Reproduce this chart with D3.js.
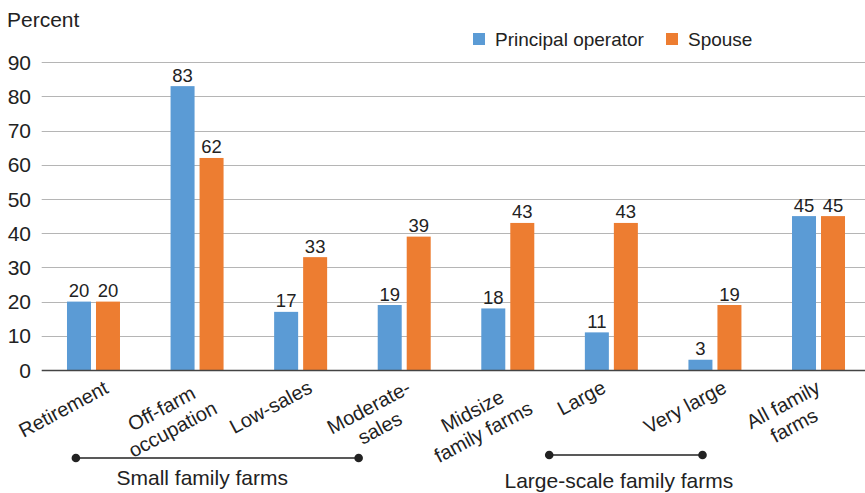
<!DOCTYPE html>
<meta charset="utf-8">
<script src="https://cdn.jsdelivr.net/npm/d3@7"></script>
<style>
body { margin: 0; background: #fff; }
text { font-family: "Liberation Sans", Arial, sans-serif; fill: #222; }
.grid line { stroke: #b5b5b5; stroke-width: 1px; }
</style>
<body>
<div id="chart"></div>
<script>
var categories = ["Retirement", "Off-farm\noccupation", "Low-sales", "Moderate-\nsales",
                  "Midsize\nfamily farms", "Large", "Very large", "All family\nfarms"]
var operatorValues = [20, 83, 17, 19, 18, 11, 3, 45]
var spouseValues = [20, 62, 33, 39, 43, 43, 19, 45]
var seriesNames = ["Principal operator", "Spouse"]
var seriesColors = ["#5b9bd5", "#ed7d31"]
var yTicks = [0, 10, 20, 30, 40, 50, 60, 70, 80, 90]

width = 865
height = 493
axisY = 370
topY = 62.2

svg = d3.select("#chart")
        .append("svg")
        .attr("width", width)
        .attr("height", height)

xScale = d3.scaleBand()
        .domain(categories)
        .range([41.7, 870.3])
        .padding(0)

yScale = d3.scaleLinear()
        .domain([0, 90])
        .range([axisY, topY])

barWidth = 24
barGap = 5

// gridlines
grid = svg.append("g").attr("class", "grid")
grid.selectAll("line")
    .data(yTicks.filter(function(d){return d > 0}))
    .enter()
    .append("line")
    .attr("x1", 41.7)
    .attr("x2", width)
    .attr("y1", function(d){return Math.round(yScale(d)) + 0.5})
    .attr("y2", function(d){return Math.round(yScale(d)) + 0.5})

// y tick labels
svg.append("g")
    .selectAll("text")
    .data(yTicks)
    .enter()
    .append("text")
    .attr("x", 31)
    .attr("y", function(d){return yScale(d)})
    .attr("dy", "0.36em")
    .attr("text-anchor", "end")
    .style("font-size", "21px")
    .text(function(d){return d})

svg.append("text")
    .attr("x", 7)
    .attr("y", 27)
    .style("font-size", "21px")
    .text("Percent")

// bars
var rows = categories.map(function(c, i){
  return {cat: c, values: [operatorValues[i], spouseValues[i]]}
})

groups = svg.append("g")
    .selectAll("g")
    .data(rows)
    .enter()
    .append("g")
    .attr("transform", function(d){return "translate(" + (xScale(d.cat) + xScale.bandwidth()/2) + ",0)"})

groups.selectAll("rect")
    .data(function(d){return d.values})
    .enter()
    .append("rect")
    .attr("x", function(d, i){return i == 0 ? -barWidth - barGap/2 : barGap/2})
    .attr("y", function(d){return yScale(d)})
    .attr("width", barWidth)
    .attr("height", function(d){return axisY - yScale(d)})
    .attr("fill", function(d, i){return seriesColors[i]})

groups.selectAll("text")
    .data(function(d){return d.values})
    .enter()
    .append("text")
    .attr("x", function(d, i){return i == 0 ? -barWidth/2 - barGap/2 : barWidth/2 + barGap/2})
    .attr("y", function(d){return yScale(d) - 4.5})
    .attr("text-anchor", "middle")
    .style("font-size", "18.5px")
    .text(function(d){return d})

// x axis line
svg.append("line")
    .attr("x1", 41.7)
    .attr("x2", width)
    .attr("y1", axisY + 0.5)
    .attr("y2", axisY + 0.5)
    .attr("stroke", "#444")
    .attr("stroke-width", 1.5)

// rotated category labels
var angle = -28
var rad = angle * Math.PI / 180
labels = svg.append("g")
    .selectAll("text")
    .data(categories)
    .enter()
    .append("text")
    .attr("text-anchor", "middle")
    .style("font-size", "20px")

labels.each(function(c){
  var t = d3.select(this)
  var lines = c.split("\n")
  lines.forEach(function(l, i){
    t.append("tspan")
      .attr("x", 0)
      .attr("y", (i - (lines.length - 1)/2) * 23.5)
      .attr("dy", "0.35em")
      .text(l)
  })
  var b = this.getBBox()
  var corners = [[b.x, b.y], [b.x + b.width, b.y], [b.x, b.y + b.height], [b.x + b.width, b.y + b.height]]
  var pts = corners.map(function(p){
    return [p[0]*Math.cos(rad) - p[1]*Math.sin(rad), p[0]*Math.sin(rad) + p[1]*Math.cos(rad)]
  })
  var minX = d3.min(pts, function(p){return p[0]}), maxX = d3.max(pts, function(p){return p[0]})
  var minY = d3.min(pts, function(p){return p[1]})
  var cx = xScale(c) + xScale.bandwidth()/2 - 30 - (minX + maxX)/2
  var cy = 376 - minY
  t.attr("transform", "translate(" + cx + "," + cy + ") rotate(" + angle + ")")
})

// group brackets
var bw = xScale.bandwidth()
var brackets = [
  {label: "Small family farms", x1: xScale(categories[0]) + 0.33*bw, x2: xScale(categories[3]) + 0.06*bw, y: 458, ty: 485, shift: -15},
  {label: "Large-scale family farms", x1: xScale(categories[4]) + 0.9*bw, x2: xScale(categories[6]) + 0.38*bw, y: 455, ty: 488, shift: -7}
]

br = svg.append("g")
    .selectAll("g")
    .data(brackets)
    .enter()
    .append("g")

br.append("line")
    .attr("x1", function(d){return d.x1})
    .attr("x2", function(d){return d.x2})
    .attr("y1", function(d){return d.y})
    .attr("y2", function(d){return d.y})
    .attr("stroke", "#222")
    .attr("stroke-width", 1.3)

br.selectAll("circle")
    .data(function(d){return [[d.x1, d.y], [d.x2, d.y]]})
    .enter()
    .append("circle")
    .attr("cx", function(d){return d[0]})
    .attr("cy", function(d){return d[1]})
    .attr("r", 4.3)
    .attr("fill", "#222")

br.append("text")
    .attr("x", function(d){return (d.x1 + d.x2)/2 + d.shift})
    .attr("y", function(d){return d.ty})
    .attr("text-anchor", "middle")
    .style("font-size", "21px")
    .text(function(d){return d.label})

// legend
var legendX = [473, 666]
legend = svg.append("g")
    .selectAll("g")
    .data(seriesNames)
    .enter()
    .append("g")
    .attr("transform", function(d, i){return "translate(" + legendX[i] + ",33)"})

legend.append("rect")
    .attr("width", 12)
    .attr("height", 12)
    .attr("fill", function(d, i){return seriesColors[i]})

legend.append("text")
    .attr("x", 22)
    .attr("y", 13)
    .style("font-size", "19px")
    .text(function(d){return d})
</script>
</body>
